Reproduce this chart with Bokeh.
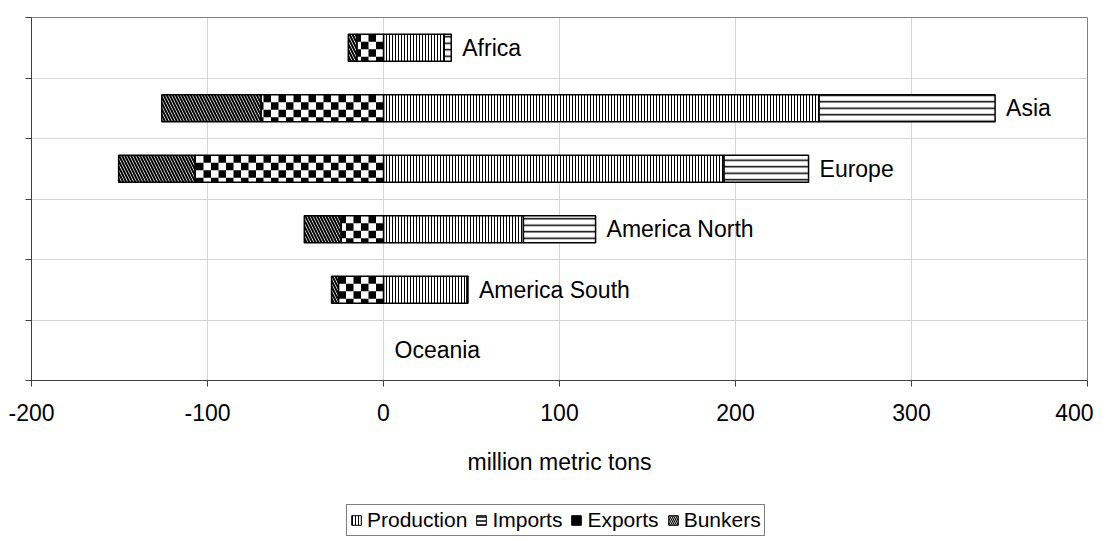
from bokeh.plotting import figure
from bokeh.layouts import column
from bokeh.models import (ColumnDataSource, Range1d, FixedTicker, Legend, LegendItem,
                          CDSView, BooleanFilter)
from bokeh.core.properties import value
from bokeh.embed import file_html
from bokeh.resources import INLINE

# ---- data (million metric tons) ----
categories = ["Africa", "Asia", "Europe", "America North", "America South", "Oceania"]
production = [34.5, 247.5, 193.5, 79.5, 47.5, 0]
imports = [4, 100, 48, 41, 0.5, 0]
exports = [15, 69.5, 107, 24, 25.5, 0]
bunkers = [5, 56.5, 43.5, 21, 4, 0]
x_ticks = [-200, -100, 0, 100, 200, 300, 400]
series_names = ["Production", "Imports", "Exports", "Bunkers"]

FONT = "Liberation Sans"
FS = "23px"
n = len(categories)
ypos = [n - i - 0.5 for i in range(n)]

# ---- layout constants ----
W, H_MAIN, H_LEG = 1093, 500, 39
BL, BR, BT, BB = 31, 6, 17, 120
FRAME_W = W - BL - BR
FRAME_H = H_MAIN - BT - BB
BAR_H = 0.45
SQ = 7.5  # checker square size in px

src = ColumnDataSource(dict(
    y=ypos,
    cat=categories,
    prod_l=[0] * n,
    prod_r=production,
    imp_l=production,
    imp_r=[p + m for p, m in zip(production, imports)],
    exp_l=[-e for e in exports],
    exp_r=[0] * n,
    bun_l=[-e - b for e, b in zip(exports, bunkers)],
    bun_r=[-e for e in exports],
))

def nonzero(vals):
    return CDSView(filter=BooleanFilter([v > 0 for v in vals]))

# checkerboard squares for the Exports segments (derived from exports values)
sx = SQ * (x_ticks[-1] - x_ticks[0]) / FRAME_W
sy = SQ * n / FRAME_H
cl, cr, cb, ct = [], [], [], []
for yc, e in zip(ypos, exports):
    if e <= 0:
        continue
    top, bot = yc + BAR_H / 2, yc - BAR_H / 2
    r = 0
    while top - r * sy > bot + 1e-9:
        t, b = top - r * sy, max(top - (r + 1) * sy, bot)
        c = 0
        while -c * sx > -e + 1e-9:
            rr, ll = -c * sx, max(-(c + 1) * sx, -e)
            if (r + c) % 2 == 1:
                cl.append(ll); cr.append(rr); cb.append(b); ct.append(t)
            c += 1
        r += 1
checker_src = ColumnDataSource(dict(left=cl, right=cr, bottom=cb, top=ct))

p = figure(width=W, height=H_MAIN, output_backend="svg", toolbar_location=None,
           x_range=Range1d(x_ticks[0], x_ticks[-1]), y_range=Range1d(0, n),
           min_border_left=BL, min_border_right=BR, min_border_top=BT, min_border_bottom=BB)
p.outline_line_color = "#808080"
p.outline_line_width = 1
p.background_fill_color = "white"
p.border_fill_color = "white"

styles = {
    "Production": dict(left="prod_l", right="prod_r", fill_color="white",
                       hatch_pattern="vertical_line", hatch_scale=3, hatch_weight=1),
    "Imports": dict(left="imp_l", right="imp_r", fill_color="white",
                    hatch_pattern="horizontal_line", hatch_scale=6.5, hatch_weight=1.5),
    "Bunkers": dict(left="bun_l", right="bun_r", fill_color="white",
                    hatch_pattern="left_diagonal_line", hatch_scale=6, hatch_weight=2),
}
values_of = {"Production": production, "Imports": imports, "Bunkers": bunkers}

for s in ["Production", "Imports", "Bunkers"]:
    p.hbar(source=src, y="y", height=BAR_H, line_color="black", line_width=1.5,
           hatch_color="black", view=nonzero(values_of[s]), **styles[s])
# exports: white base, checker squares, outline
p.hbar(left="exp_l", right="exp_r", source=src, y="y", height=BAR_H, fill_color="white",
       line_color=None, view=nonzero(exports))
p.quad(left="left", right="right", bottom="bottom", top="top", source=checker_src,
       fill_color="black", line_color=None)
p.hbar(left="exp_l", right="exp_r", source=src, y="y", height=BAR_H, fill_color=None,
       line_color="black", line_width=1.5, view=nonzero(exports))

# category labels at end of positive bars
p.text(x="imp_r", y="y", text="cat", source=src, x_offset=11,
       text_font=value(FONT), text_font_size=FS, text_color="black",
       text_align="left", text_baseline="middle")

xa = p.xaxis[0]
xa.ticker = FixedTicker(ticks=x_ticks)
xa.major_label_overrides = {t: str(t) for t in x_ticks}
xa.axis_label = "million metric tons"
xa.axis_label_text_font = FONT
xa.axis_label_text_font_size = FS
xa.axis_label_text_font_style = "normal"
xa.axis_label_text_color = "black"
xa.axis_label_standoff = 25
xa.major_label_text_font = FONT
xa.major_label_text_font_size = FS
xa.major_label_text_color = "black"
xa.major_label_standoff = 17
xa.major_tick_out = 6
xa.major_tick_in = 0
xa.minor_tick_out = 0
xa.minor_tick_in = 0
xa.axis_line_color = "#404040"
xa.major_tick_line_color = "#404040"

ya = p.yaxis[0]
ya.ticker = FixedTicker(ticks=list(range(n + 1)))
ya.major_label_overrides = {t: "" for t in range(n + 1)}
ya.major_label_standoff = 0
ya.major_tick_out = 6
ya.major_tick_in = 0
ya.minor_tick_out = 0
ya.minor_tick_in = 0
ya.axis_line_color = "#404040"
ya.major_tick_line_color = "#404040"

p.xgrid.grid_line_color = "#d4d4d4"
p.xgrid.ticker = FixedTicker(ticks=x_ticks)
p.ygrid.grid_line_color = "#d4d4d4"
p.ygrid.ticker = FixedTicker(ticks=list(range(n + 1)))

# ---- legend strip: same series glyphs (hidden), legend only ----
pl = figure(width=W, height=H_LEG, output_backend="svg", toolbar_location=None,
            x_axis_type=None, y_axis_type=None, x_range=Range1d(0, 1),
            y_range=Range1d(0, 1), min_border=0)
pl.outline_line_color = None
pl.background_fill_color = "white"
pl.border_fill_color = "white"
pl.grid.visible = False
lr = {}
leg_styles = {
    "Production": dict(hatch_pattern="vertical_line", hatch_scale=3, hatch_weight=1),
    "Imports": dict(hatch_pattern="horizontal_line", hatch_scale=4, hatch_weight=1.5),
    "Bunkers": dict(hatch_pattern="left_diagonal_line", hatch_scale=4, hatch_weight=1.2),
}
for s in ["Production", "Imports", "Bunkers"]:
    lr[s] = pl.hbar(source=src, y="y", height=BAR_H, left=styles[s]["left"],
                    right=styles[s]["right"], fill_color="white", line_color="black",
                    line_width=1, hatch_color="black", visible=False, **leg_styles[s])
lr["Exports"] = pl.hbar(source=src, y="y", height=BAR_H, left="exp_l", right="exp_r",
                        fill_color="black", line_color="black", line_width=1,
                        visible=False)

legend = Legend(items=[LegendItem(label=s, renderers=[lr[s]], index=1) for s in series_names],
                orientation="horizontal", location=(315, 3))
legend.label_text_font = FONT
legend.label_text_font_size = "21px"
legend.label_text_color = "black"
legend.border_line_color = "black"
legend.border_line_width = 1
legend.glyph_width = 12
legend.glyph_height = 12
legend.label_standoff = 5
legend.spacing = 8
legend.padding = 3
legend.margin = 0
legend.label_height = 20
legend.click_policy = "none"
pl.add_layout(legend, "center")

layout = column(p, pl, spacing=0)
open("out.html", "w").write(file_html(layout, INLINE))
